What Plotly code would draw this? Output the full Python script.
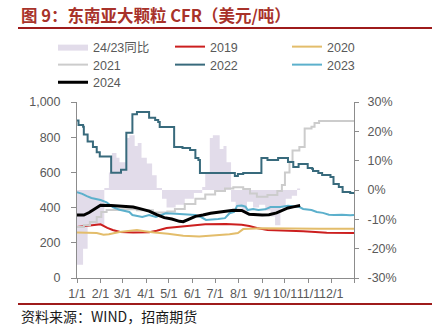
import plotly.graph_objects as go

# ---- data: 东南亚大颗粒尿素 CFR price by calendar day (USD/t) ----
dates_2019 = ["2024-01-01", "2024-01-18", "2024-02-01", "2024-02-10", "2024-02-17", "2024-02-27",
              "2024-03-15", "2024-04-05", "2024-04-15", "2024-04-28", "2024-05-15", "2024-06-01",
              "2024-06-18", "2024-07-15", "2024-08-05", "2024-08-15", "2024-08-25", "2024-09-08",
              "2024-10-10", "2024-10-25", "2024-11-10", "2024-11-25", "2024-12-31"]
vals_2019 = [290, 300, 305, 285, 273, 262, 258, 260, 268, 284, 290, 298,
             305, 307, 302, 295, 284, 273, 270, 266, 262, 257, 256]

dates_2020 = ["2024-01-01", "2024-01-27", "2024-02-05", "2024-02-12", "2024-02-26", "2024-03-12",
              "2024-03-20", "2024-03-30", "2024-04-12", "2024-04-30", "2024-05-20", "2024-06-10",
              "2024-07-01", "2024-07-20", "2024-07-31", "2024-08-04", "2024-08-07", "2024-09-01",
              "2024-10-01", "2024-11-15", "2024-12-31"]
vals_2020 = [258, 256, 246, 248, 261, 270, 272, 266, 258, 252, 240, 236,
             242, 248, 256, 270, 278, 282, 280, 280, 280]

dates_2021 = ["2024-01-01", "2024-01-10", "2024-01-18", "2024-01-27", "2024-02-02", "2024-02-09",
              "2024-02-26", "2024-03-20", "2024-04-10", "2024-04-29", "2024-05-09", "2024-05-22",
              "2024-06-05", "2024-06-18", "2024-07-01", "2024-07-14", "2024-07-25", "2024-08-07",
              "2024-08-16", "2024-08-25", "2024-09-08", "2024-09-21", "2024-09-27", "2024-10-01",
              "2024-10-07", "2024-10-11", "2024-10-20", "2024-10-24", "2024-10-27", "2024-11-05",
              "2024-11-09", "2024-11-15", "2024-12-31"]
vals_2021 = [290, 300, 318, 347, 375, 386, 390, 385, 372, 378, 392, 420,
             450, 475, 495, 508, 515, 505, 480, 462, 472, 495, 528, 600,
             660, 725, 745, 745, 850, 860, 880, 892, 892]

dates_2022 = ["2024-01-01", "2024-01-03", "2024-01-09", "2024-01-10", "2024-01-15", "2024-01-22",
              "2024-01-27", "2024-01-31", "2024-02-15", "2024-02-28", "2024-03-06", "2024-03-14",
              "2024-03-20", "2024-04-05", "2024-04-13", "2024-04-17", "2024-04-19", "2024-05-08",
              "2024-05-19", "2024-05-29", "2024-06-05", "2024-06-09", "2024-06-11", "2024-07-27",
              "2024-07-31", "2024-08-07", "2024-08-31", "2024-09-08", "2024-09-22", "2024-10-05",
              "2024-10-12", "2024-10-19", "2024-10-31", "2024-11-06", "2024-11-07", "2024-11-14",
              "2024-11-19", "2024-11-30", "2024-12-04", "2024-12-11", "2024-12-16", "2024-12-26",
              "2024-12-31"]
vals_2022 = [895, 870, 860, 815, 775, 745, 715, 690, 598, 615, 825, 930,
             943, 910, 898, 886, 858, 744, 738, 727, 682, 670, 597, 580,
             591, 597, 682, 670, 682, 659, 631, 648, 625, 620, 608, 597,
             585, 574, 534, 517, 489, 483, 483]

dates_2023 = ["2024-01-01", "2024-01-08", "2024-01-14", "2024-01-20", "2024-02-01", "2024-02-09",
              "2024-02-17", "2024-02-26", "2024-03-10", "2024-03-14", "2024-03-27", "2024-04-05",
              "2024-04-14", "2024-04-27", "2024-05-10", "2024-05-25", "2024-06-05", "2024-06-13",
              "2024-06-19", "2024-07-05", "2024-07-14", "2024-07-20", "2024-07-26", "2024-07-30",
              "2024-08-05", "2024-08-10", "2024-08-13", "2024-08-20", "2024-08-27", "2024-09-05",
              "2024-09-12", "2024-09-25", "2024-10-05", "2024-10-19", "2024-10-25", "2024-11-05",
              "2024-11-12", "2024-11-20", "2024-11-28", "2024-12-05", "2024-12-15", "2024-12-26",
              "2024-12-31"]
vals_2023 = [487, 478, 465, 455, 443, 430, 403, 388, 375, 358, 347, 358,
             347, 368, 365, 360, 358, 345, 330, 335, 340, 368, 375, 410,
             412, 405, 386, 392, 386, 390, 403, 403, 410, 405, 392, 386,
             375, 370, 360, 358, 360, 356, 358]

dates_2024 = ["2024-01-01", "2024-01-10", "2024-01-17", "2024-01-24", "2024-02-01", "2024-02-15",
              "2024-03-01", "2024-03-15", "2024-03-25", "2024-04-05", "2024-04-15", "2024-04-25",
              "2024-05-05", "2024-05-15", "2024-05-20", "2024-05-27", "2024-06-05", "2024-06-15",
              "2024-06-25", "2024-07-10", "2024-07-25", "2024-08-05", "2024-08-15", "2024-09-01",
              "2024-09-10", "2024-09-20", "2024-09-27", "2024-10-05", "2024-10-12", "2024-10-21"]
vals_2024 = [358, 358, 372, 392, 413, 412, 409, 403, 393, 380, 360, 343,
             335, 322, 320, 335, 350, 358, 368, 377, 385, 384, 362, 358,
             360, 370, 385, 398, 404, 412]

# 24/23 同比 (%)
dates_yoy = ["2024-01-01", "2024-01-09", "2024-01-15", "2024-02-06", "2024-02-12", "2024-02-16",
             "2024-02-22", "2024-02-26", "2024-03-06", "2024-03-10", "2024-03-17", "2024-03-21",
             "2024-03-26", "2024-04-02", "2024-04-09", "2024-04-15", "2024-04-22", "2024-04-28",
             "2024-05-10", "2024-05-22", "2024-06-03", "2024-06-14", "2024-06-18", "2024-06-24",
             "2024-06-28", "2024-07-07", "2024-07-12", "2024-07-16", "2024-07-22", "2024-07-28",
             "2024-08-05", "2024-08-12", "2024-08-20", "2024-08-28", "2024-09-05", "2024-09-12",
             "2024-09-18", "2024-09-25", "2024-10-02", "2024-10-10", "2024-10-17", "2024-10-21"]
vals_yoy = [-25.5, -20, -12, 0.7, 6, 12.6,
            11, 9.5, 17.7, 18.7, 15, 16,
            11, 9, 5, 0.7, -3, -6,
            -5, -3, -1, 1, 6, 17.7,
            18.7, 14, 15, 9.5, -4, -6,
            -7.5, -4, -6, -5, -7, -9,
            -12, -6, -3, -2, 0.5, 0.5]

# ---- axis ticks ----
x_tickvals = ["2024-01-01", "2024-02-01", "2024-03-01", "2024-04-01", "2024-05-01", "2024-06-01",
              "2024-07-01", "2024-08-01", "2024-09-01", "2024-10-01", "2024-11-01", "2024-12-01",
              "2024-12-31"]
x_ticktext = ["1/1", "2/1", "3/1", "4/1", "5/1", "6/1", "7/1", "8/1", "9/1", "10/1", "11/1", "12/1", ""]
left_tickvals = [0, 200, 400, 600, 800, 1000]
right_tickvals = [-30, -20, -10, 0, 10, 20, 30]
right_ticktext = ["-30%", "-20%", "-10%", "0%", "10%", "20%", "30%"]

# ---- layout geometry (pixels) ----
W, H = 432, 333
L, R, T, B = 77, 354, 102, 278


def px(x):
    return (x - L) / (R - L)


def py(y):
    return (B - y) / (B - T)


FONT = "Liberation Sans, Arial, sans-serif"
CJK = "Noto Sans CJK SC"
TXT = "#595959"
AX = "#8c8c8c"

fig = go.Figure()

# YoY area on the primary (right-hand, %) axis so the price lines sit on top
fig.add_trace(go.Scatter(
    x=dates_yoy, y=vals_yoy, name="24/23同比", yaxis="y", legend="legend",
    mode="lines", line=dict(width=0, shape="hv", color="#e2dcea"),
    fill="tozeroy", fillcolor="#e2dcea",
))

# name, x, y, colour, width, line shape, legend row
series = [
    ("2019", dates_2019, vals_2019, "#cc1f1f", 2, "linear", "legend"),
    ("2020", dates_2020, vals_2020, "#e3bd6b", 2, "linear", "legend"),
    ("2021", dates_2021, vals_2021, "#cccccc", 2, "hv", "legend2"),
    ("2022", dates_2022, vals_2022, "#386a7c", 2, "hv", "legend2"),
    ("2023", dates_2023, vals_2023, "#5cb0cc", 2, "linear", "legend2"),
    ("2024", dates_2024, vals_2024, "#000000", 3, "linear", "legend3"),
]
for name, xs, ys, col, w, shape, lg in series:
    fig.add_trace(go.Scatter(
        x=xs, y=ys, name=name, yaxis="y2", mode="lines", legend=lg,
        line=dict(color=col, width=w, shape=shape),
    ))


def legend_row(y_px):
    return dict(
        orientation="h", x=px(53), xanchor="left", y=py(y_px), yanchor="middle",
        entrywidth=72, entrywidthmode="pixels",
        font=dict(family=FONT + ", " + CJK, size=12.5, color=TXT),
        bgcolor="rgba(0,0,0,0)", tracegroupgap=0,
    )


fig.update_layout(
    width=W, height=H,
    margin=dict(l=L, r=W - R, t=T, b=H - B, pad=0),
    paper_bgcolor="white", plot_bgcolor="white",
    font=dict(family=FONT, size=12.5, color=TXT),
    showlegend=True,
    legend=legend_row(47),
    legend2=legend_row(65),
    legend3=legend_row(82.5),
    xaxis=dict(
        type="date", range=["2024-01-01", "2024-12-31"],
        tickmode="array", tickvals=x_tickvals, ticktext=x_ticktext, tickangle=0,
        showgrid=False, zeroline=False, showline=True, linecolor=AX, linewidth=1,
        ticks="outside", ticklen=4, tickcolor=AX,
        tickfont=dict(size=12.5, color=TXT),
    ),
    yaxis=dict(
        side="right", range=[-30, 30],
        tickmode="array", tickvals=right_tickvals, ticktext=right_ticktext,
        showgrid=False, zeroline=False, showline=True, linecolor=AX, linewidth=1,
        ticks="outside", ticklen=4, tickcolor=AX, ticklabelstandoff=6,
        tickfont=dict(size=12.5, color=TXT),
    ),
    yaxis2=dict(
        side="left", overlaying="y", range=[0, 1000],
        tickmode="array", tickvals=left_tickvals, tickformat=",",
        showgrid=False, zeroline=False, showline=True, linecolor=AX, linewidth=1,
        ticks="outside", ticklen=5, tickcolor=AX, ticklabelstandoff=8,
        tickfont=dict(size=12.5, color=TXT),
    ),
    shapes=[
        dict(type="line", xref="paper", yref="paper", x0=px(18), x1=px(432),
             y0=py(28), y1=py(28), line=dict(color="#9e1b1b", width=2)),
        dict(type="line", xref="paper", yref="paper", x0=px(18), x1=px(432),
             y0=py(304), y1=py(304), line=dict(color="#9e1b1b", width=2)),
    ],
    annotations=[
        dict(text="<b>图 9：东南亚大颗粒 CFR（美元/吨）</b>", xref="paper", yref="paper",
             x=px(19), y=py(15), xanchor="left", yanchor="middle", showarrow=False,
             font=dict(family=CJK, size=16.5, color="#a8322a")),
        dict(text="资料来源：WIND，招商期货", xref="paper", yref="paper",
             x=px(19), y=py(316), xanchor="left", yanchor="middle", showarrow=False,
             font=dict(family=CJK, size=14, color="#1a1a1a")),
    ],
)

fig.write_html("out.html")
